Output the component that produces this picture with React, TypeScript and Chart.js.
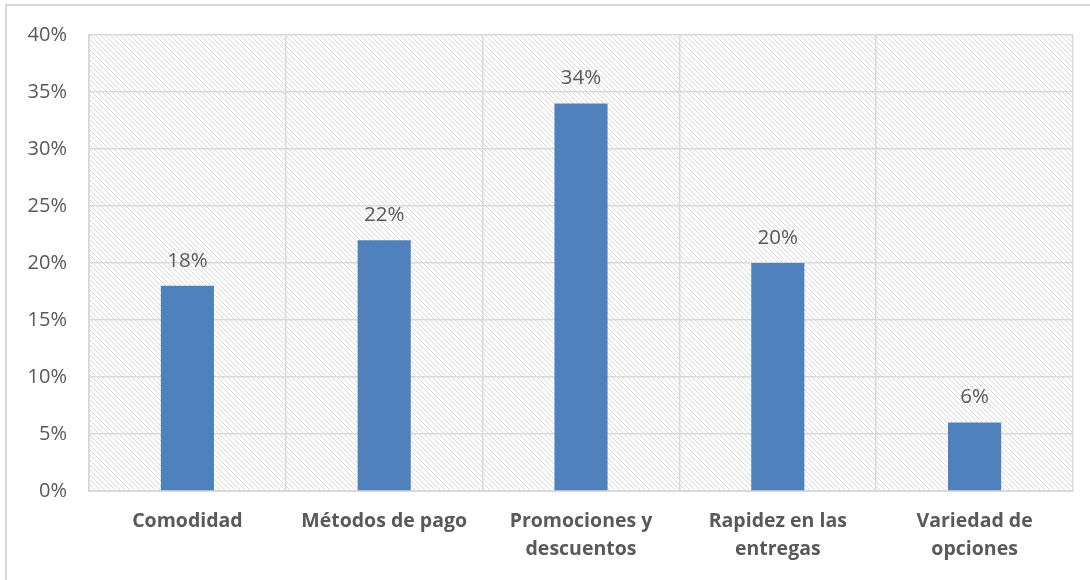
import React, { useEffect, useRef } from "react";
import { Chart, registerables } from "chart.js";

Chart.register(...registerables);

const categories: (string | string[])[] = [
  "Comodidad",
  "Métodos de pago",
  ["Promociones y", "descuentos"],
  ["Rapidez en las", "entregas"],
  ["Variedad de", "opciones"],
];
const values: number[] = [18, 22, 34, 20, 6];
const yTicks: number[] = [0, 5, 10, 15, 20, 25, 30, 35, 40];

const FONT = "'Open Sans', 'Noto Sans', sans-serif";
const TEXT = "#595959";
const GRID = "#d9d9d9";
const BAR = "#4f81bd";

function makeHatch(ctx: CanvasRenderingContext2D): CanvasPattern | string {
  const c = document.createElement("canvas");
  const s = 5;
  c.width = s;
  c.height = s;
  const g = c.getContext("2d");
  if (!g) return "#ffffff";
  g.fillStyle = "#ffffff";
  g.fillRect(0, 0, s, s);
  g.strokeStyle = "#dadada";
  g.lineWidth = 1;
  g.beginPath();
  g.moveTo(-1, -1);
  g.lineTo(s + 1, s + 1);
  g.moveTo(-1, s - 1);
  g.lineTo(1, s + 1);
  g.moveTo(s - 1, -1);
  g.lineTo(s + 1, 1);
  g.stroke();
  return ctx.createPattern(c, "repeat") || "#ffffff";
}

const bgPlugin = {
  id: "bgPlugin",
  beforeDraw(chart: any) {
    const { ctx, chartArea } = chart;
    ctx.save();
    ctx.fillStyle = "#ffffff";
    ctx.fillRect(0, 0, chart.width, chart.height);
    ctx.strokeStyle = GRID;
    ctx.lineWidth = 2;
    ctx.strokeRect(6, 5, chart.width + 20, chart.height + 20);
    ctx.fillStyle = makeHatch(ctx);
    ctx.fillRect(chartArea.left, chartArea.top, chartArea.right - chartArea.left, chartArea.bottom - chartArea.top);
    ctx.restore();
  },
};

const labelPlugin = {
  id: "labelPlugin",
  afterDatasetsDraw(chart: any) {
    const { ctx } = chart;
    const meta = chart.getDatasetMeta(0);
    ctx.save();
    ctx.fillStyle = TEXT;
    ctx.font = `20.5px ${FONT}`;
    ctx.textAlign = "center";
    ctx.textBaseline = "middle";
    meta.data.forEach((bar: any, i: number) => {
      ctx.fillText(`${values[i]}%`, bar.x, bar.y - 25);
    });
    ctx.restore();
  },
};

export default function App() {
  const ref = useRef<HTMLCanvasElement | null>(null);
  useEffect(() => {
    if (!ref.current) return;
    const chart = new Chart(ref.current, {
      type: "bar",
      data: {
        labels: categories as any,
        datasets: [
          {
            data: values,
            backgroundColor: BAR,
            borderWidth: 0,
            categoryPercentage: 1,
            barPercentage: 0.27,
          },
        ],
      },
      options: {
        responsive: false,
        animation: false,
        events: [],
        layout: { padding: { left: 0, top: 35, right: 17, bottom: 0 } },
        plugins: { legend: { display: false }, tooltip: { enabled: false } },
        scales: {
          x: {
            grid: { color: GRID, lineWidth: 1.5, drawTicks: false, offset: true },
            border: { color: GRID, width: 2 },
            ticks: {
              color: TEXT,
              font: { family: FONT, size: 19.5, weight: "bold", lineHeight: 1.44 },
              padding: 16,
              maxRotation: 0,
              autoSkip: false,
            },
            afterFit(scale: any) {
              scale.height = 89;
            },
          },
          y: {
            min: 0,
            max: 40,
            afterBuildTicks(scale: any) {
              scale.ticks = yTicks.map((v) => ({ value: v }));
            },
            grid: { color: GRID, lineWidth: 1.5, drawTicks: false },
            border: { color: GRID, width: 2 },
            ticks: {
              color: TEXT,
              font: { family: FONT, size: 20 },
              padding: 22,
              callback: (v: any) => `${v}%`,
            },
            afterFit(scale: any) {
              scale.width = 89;
            },
          },
        },
      },
      plugins: [bgPlugin, labelPlugin],
    });
    return () => chart.destroy();
  }, []);
  return (
    <div style={{ position: "fixed", left: 0, top: 0, width: 1090, height: 580 }}>
      <canvas ref={ref} width={1090} height={580} style={{ display: "block", width: 1090, height: 580 }} />
    </div>
  );
}
